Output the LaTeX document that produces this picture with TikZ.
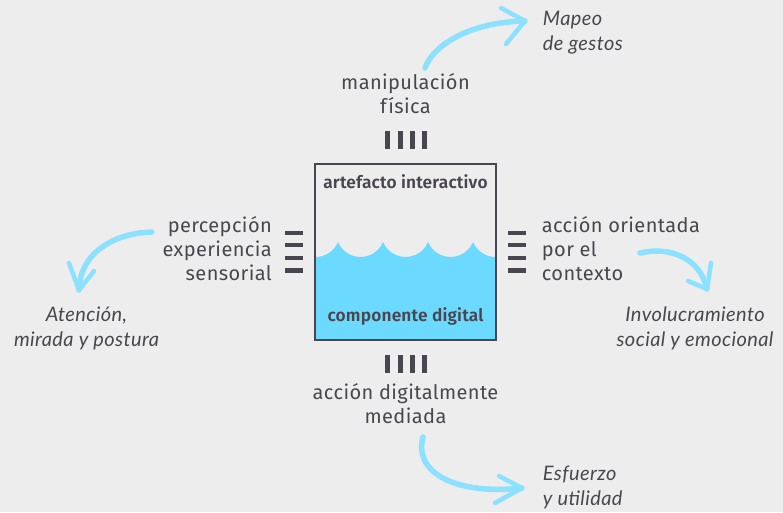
\documentclass[tikz,border=0pt]{standalone}
\usepackage{fontspec}
\newfontfamily\labfont[LetterSpace=2]{Fira Sans}
\newfontfamily\boxfont[LetterSpace=1]{Fira Sans SemiBold}
\newfontfamily\handfont[LetterSpace=2]{Lato Italic}
\definecolor{bg}{HTML}{EDEDED}
\definecolor{ink}{HTML}{4A4650}
\definecolor{water}{HTML}{6CD9FF}
\definecolor{brush}{HTML}{8BE1FF}
\begin{document}
\begin{tikzpicture}[x=1pt,y=-1pt,
  lab/.style={text=ink,font=\labfont\fontsize{20}{24}\selectfont,inner sep=0pt},
  boxlab/.style={text=ink,font=\boxfont\fontsize{17.3}{20}\selectfont,inner sep=0pt},
  hand/.style={text=ink,font=\handfont\fontsize{20}{25}\selectfont,inner sep=0pt},
  bar/.style={fill=ink,draw=none},
  brushline/.style={draw=brush,line width=5.5pt,line cap=round,line join=round},
  brushhead/.style={draw=brush,line width=4.5pt,line cap=round,line join=round}]
\useasboundingbox[fill=bg] (0,0) rectangle (783,512);
% water
\fill[water] (315.5,257) arc[start angle=90,end angle=22.7,radius=24.4]
  arc[start angle=157.3,end angle=22.7,radius=24.4]
  arc[start angle=157.3,end angle=22.7,radius=24.4]
  arc[start angle=157.3,end angle=22.7,radius=24.4]
  arc[start angle=157.3,end angle=90,radius=24.4]
  -- (495.5,340) -- (315.5,340) -- cycle;
\node[draw=ink,line width=2.5pt,minimum width=181pt,minimum height=176pt,inner sep=0pt] (box) at (405.5,252) {};
\node[boxlab,anchor=base] (art) at (405.5,188.3) {artefacto interactivo};
\node[boxlab,anchor=base] (comp) at (405.5,321.7) {componente digital};
% bars
\foreach \x [count=\i] in {387.5,400,412.5,424.5}{
  \fill[bar] (\x-2.5,131) rectangle (\x+2.5,148.5);
  \fill[bar] (\x-2.5,355) rectangle (\x+2.5,372.5);}
\foreach \y in {233,244.7,257.8,270.3}{
  \fill[bar] (285,\y-2.2) rectangle (302.7,\y+2.2);
  \fill[bar] (508.3,\y-2.2) rectangle (526,\y+2.2);}
% labels (base anchor = baseline of last line)
\node[lab,anchor=base,align=center] (top) at (405.5,113.5) {manipulación\\física};
\node[lab,anchor=base east,align=right] (left) at (272,280.5) {percepción\\experiencia\\sensorial};
\node[lab,anchor=base west,align=left] (right) at (541.7,280.5) {acción orientada\\por el\\contexto};
\node[lab,anchor=base,align=center] (bottom) at (405.5,423.3) {acción digitalmente\\mediada};
\node[hand,anchor=base west,align=left] (mapeo) at (542.7,50) {Mapeo\\de gestos};
\node[hand,anchor=base,align=center] (aten) at (86.5,346.7) {Atención,\\mirada y postura};
\node[hand,anchor=base,align=center] (invo) at (695,346.7) {Involucramiento\\social y emocional};
\node[hand,anchor=base west,align=left] (esf) at (542.7,505) {Esfuerzo\\y utilidad};
% arrows
\coordinate (t0) at (425,68); \coordinate (t1) at (525,21);
\coordinate (l0) at (152,232); \coordinate (l1) at (79,290);
\coordinate (r0) at (640,253); \coordinate (r1) at (707,289);
\coordinate (b0) at (423,437); \coordinate (b1) at (522,488);
\draw[brushline] (t0) .. controls (433,45) and (470,22) .. (t1);
\draw[brushhead] (501,8) -- (t1) -- (506,44);
\draw[brushline] (l0) .. controls (115,233) and (80,252) .. (l1);
\draw[brushhead] (69,263) -- (l1) -- (94,271);
\draw[brushline] (r0) .. controls (670,246) and (700,258) .. (r1);
\draw[brushhead] (711,263) -- (r1) -- (688,281);
\draw[brushline] (b0) .. controls (413,475) and (460,495) .. (b1);
\draw[brushhead] (499,476) -- (b1) -- (495,503);
\end{tikzpicture}
\end{document}
